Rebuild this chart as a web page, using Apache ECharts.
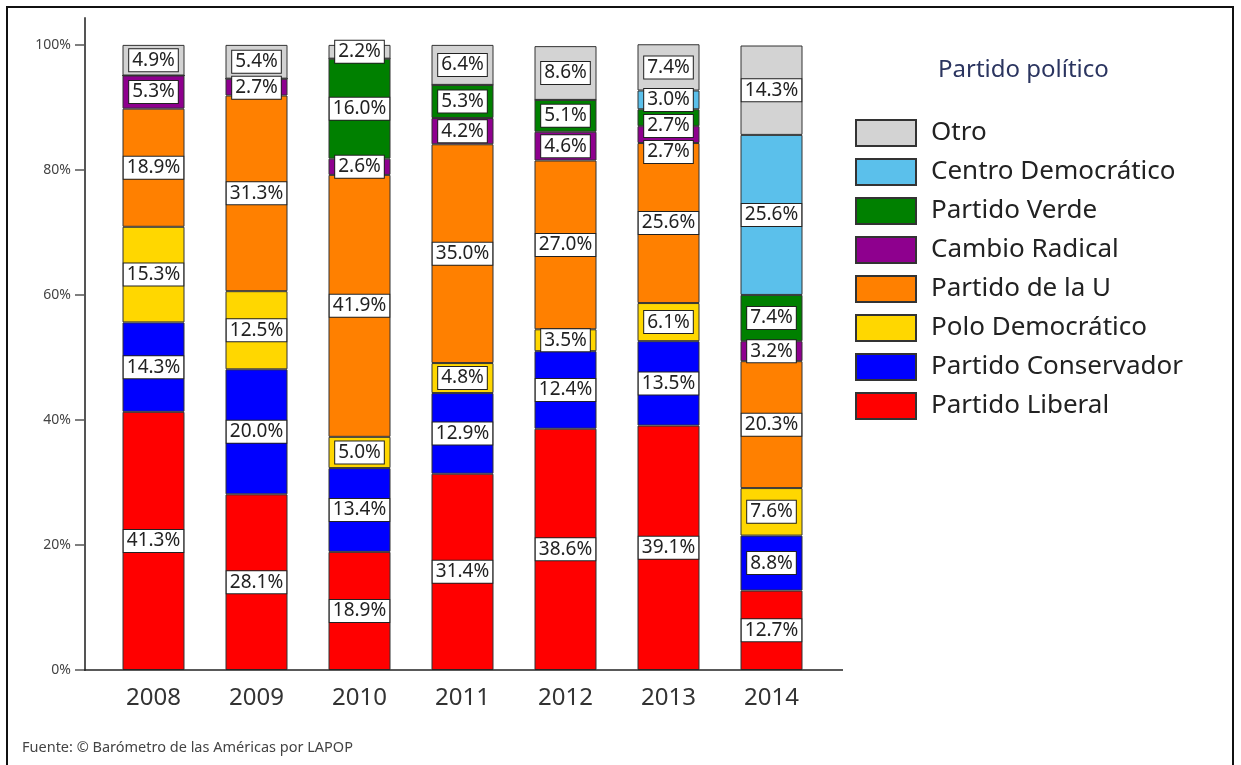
<!DOCTYPE html>
<html lang="es">
<head>
<meta charset="UTF-8">
<title>Partido político 2008-2014</title>
<script src="https://cdn.jsdelivr.net/npm/echarts@6.0.0/dist/echarts.min.js"></script>
<style>
  html, body { margin: 0; padding: 0; background: #fff; }
  #chart { width: 1241px; height: 765px; }
</style>
</head>
<body>
<div id="chart"></div>
<script>
// datos (de abajo hacia arriba en cada barra)
const years = ['2008', '2009', '2010', '2011', '2012', '2013', '2014'];
const partyNames = ['Partido Liberal', 'Partido Conservador', 'Polo Democrático', 'Partido de la U',
                    'Cambio Radical', 'Partido Verde', 'Centro Democrático', 'Otro'];
const liberal      = [41.3, 28.1, 18.9, 31.4, 38.6, 39.1, 12.7];
const conservador  = [14.3, 20.0, 13.4, 12.9, 12.4, 13.5, 8.8];
const polo         = [15.3, 12.5, 5.0, 4.8, 3.5, 6.1, 7.6];
const partidoU     = [18.9, 31.3, 41.9, 35.0, 27.0, 25.6, 20.3];
const cambio       = [5.3, 2.7, 2.6, 4.2, 4.6, 2.7, 3.2];
const verde        = [0, 0, 16.0, 5.3, 5.1, 2.7, 7.4];
const centro       = [0, 0, 0, 0, 0, 3.0, 25.6];
const otro         = [4.9, 5.4, 2.2, 6.4, 8.6, 7.4, 14.3];
const yTicks = [0, 20, 40, 60, 80, 100];

const partyValues = [liberal, conservador, polo, partidoU, cambio, verde, centro, otro];
const colors = ['#ff0000', '#0000ff', '#ffd700', '#ff8000', '#8e008e', '#008000', '#5bc0eb', '#d3d3d3'];

const chart = echarts.init(document.getElementById('chart'));
const FONT = '"Noto Sans", "Open Sans", sans-serif';

// desplazamiento de etiquetas para que no se tapen (en unidades de %)
function labelShifts(minGap) {
    const shifts = partyValues.map(() => years.map(() => 0));
    years.forEach((y, j) => {
        let base = 0;
        const mids = [];
        partyValues.forEach((vals, i) => {
            const v = vals[j];
            if (v > 0) mids.push({ i: i, mid: base + v / 2 });
            base += v;
        });
        let prev = null;
        for (let k = mids.length - 1; k >= 0; k--) {
            let pos = mids[k].mid;
            if (prev !== null && prev - pos < minGap) pos = prev - minGap;
            shifts[mids[k].i][j] = mids[k].mid - pos;
            prev = pos;
        }
    });
    return shifts;
}

function buildSeries(shifts, ppu) {
    return partyNames.map((name, i) => ({
        name: name,
        type: 'bar',
        stack: 'total',
        barWidth: 62,
        itemStyle: { color: colors[i], borderColor: '#333', borderWidth: 1 },
        label: {
            show: true,
            position: 'inside',
            formatter: p => p.value.toFixed(1) + '%',
            color: '#222',
            fontFamily: FONT,
            fontSize: 19,
            backgroundColor: '#fff',
            borderColor: '#222',
            borderWidth: 1,
            padding: [2, 3, 1, 3]
        },
        data: partyValues[i].map((v, j) => ({
            value: v,
            label: { show: v > 0, offset: [0, shifts[i][j] * ppu] }
        }))
    }));
}

const option = {
    animation: false,
    title: [
        { text: 'Partido político', left: 933, top: 53,
          textStyle: { fontFamily: FONT, fontSize: 24, fontWeight: 'normal', color: '#2b3560' } },
        { text: 'Fuente: © Barómetro de las Américas por LAPOP', left: 17, top: 735,
          textStyle: { fontFamily: FONT, fontSize: 14.5, fontWeight: 'normal', color: '#444' } }
    ],
    legend: {
        orient: 'vertical',
        left: 850,
        top: 114,
        icon: 'rect',
        itemWidth: 60,
        itemHeight: 26,
        itemGap: 11,
        data: partyNames.slice().reverse(),
        textStyle: { fontFamily: FONT, fontSize: 26, lineHeight: 26, color: '#222', padding: [0, 0, 0, 10] }
    },
    grid: { left: 102, width: 721, top: 18, bottom: 95 },
    xAxis: {
        type: 'category',
        data: years,
        axisLine: { show: false },
        axisTick: { show: false },
        axisLabel: { fontFamily: FONT, fontSize: 24, color: '#333', margin: 16 }
    },
    yAxis: {
        type: 'value',
        min: 0,
        max: 104.3,
        offset: 17,
        splitLine: { show: false },
        axisLine: { show: true, lineStyle: { color: '#555', width: 2 } },
        axisTick: { show: true, length: 10, customValues: yTicks, lineStyle: { color: '#555', width: 1.5 } },
        axisLabel: { customValues: yTicks, formatter: '{value}%', fontFamily: FONT, fontSize: 14, color: '#444', margin: 14 }
    },
    series: buildSeries(partyValues.map(() => years.map(() => 0)), 0)
};
chart.setOption(option);

// escala en px por % y ajuste de etiquetas
const y0 = chart.convertToPixel({ yAxisIndex: 0 }, 0);
const y100 = chart.convertToPixel({ yAxisIndex: 0 }, 100);
const ppu = (y0 - y100) / 100;
const shifts = labelShifts(26 / ppu);

chart.setOption({
    series: buildSeries(shifts, ppu),
    graphic: [
        { type: 'line', shape: { x1: 84, y1: y0, x2: 843, y2: y0 },
          style: { stroke: '#222', lineWidth: 1.5 }, z: 10 },
        { type: 'rect', shape: { x: 7, y: 7, width: 1226, height: 790 },
          style: { fill: null, stroke: '#111', lineWidth: 2 } }
    ]
});
</script>
</body>
</html>
